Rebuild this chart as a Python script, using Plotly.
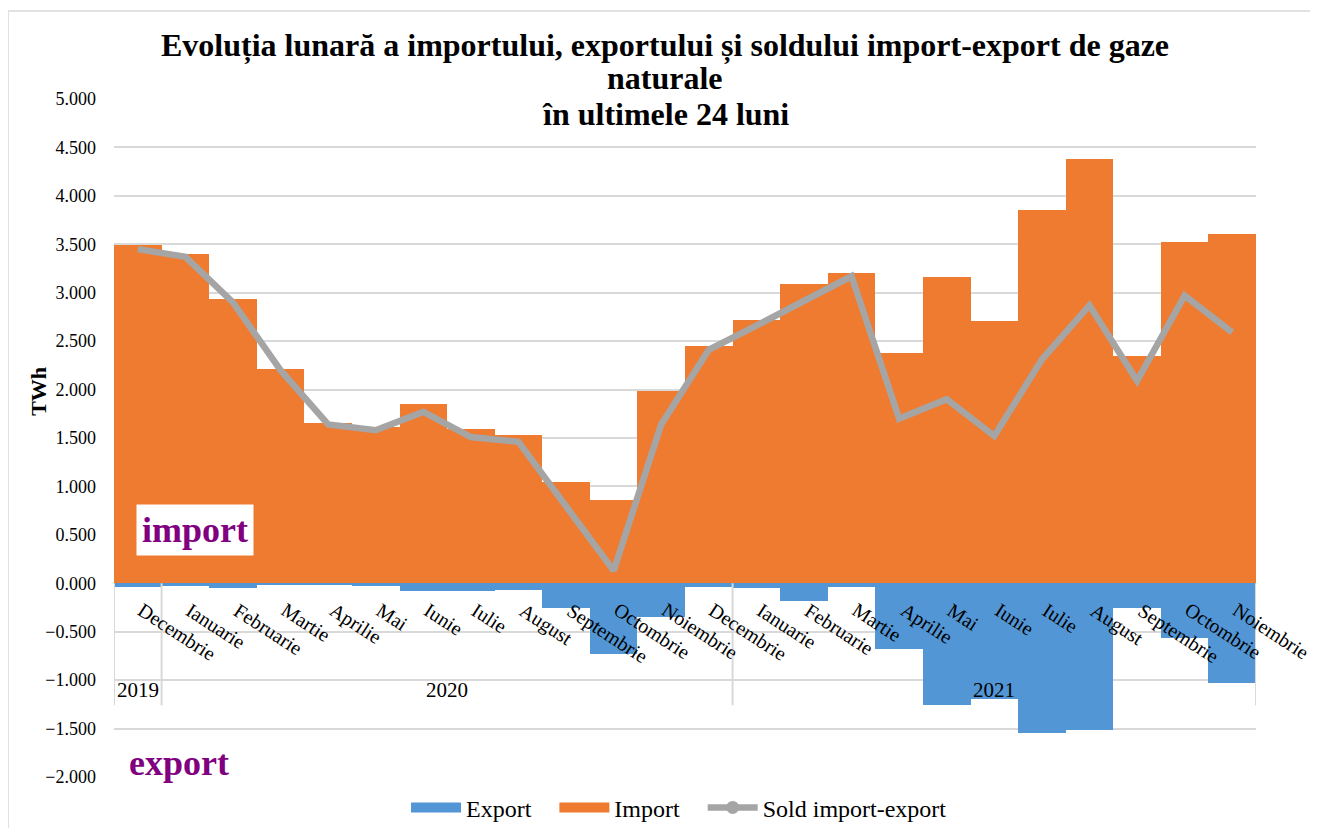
import plotly.graph_objects as go

# ---------------- data ----------------
months = ["Decembrie", "Ianuarie", "Februarie", "Martie", "Aprilie", "Mai", "Iunie",
          "Iulie", "August", "Septembrie", "Octombrie", "Noiembrie", "Decembrie",
          "Ianuarie", "Februarie", "Martie", "Aprilie", "Mai", "Iunie", "Iulie",
          "August", "Septembrie", "Octombrie", "Noiembrie"]
years = ["2019", "2020", "2021"]
year_month_counts = [1, 12, 11]

import_vals = [3.49, 3.40, 2.93, 2.21, 1.65, 1.61, 1.85, 1.59, 1.53, 1.05, 0.86, 1.99,
               2.45, 2.72, 3.09, 3.20, 2.38, 3.16, 2.71, 3.85, 4.38, 2.35, 3.52, 3.61]
export_vals = [-0.04, -0.03, -0.05, -0.02, -0.01, -0.03, -0.08, -0.08, -0.07, -0.26, -0.73, -0.35,
               -0.04, -0.05, -0.18, -0.04, -0.68, -1.26, -1.19, -1.55, -1.51, -0.26, -0.56, -1.03]
sold_vals = [3.45, 3.37, 2.90, 2.20, 1.64, 1.58, 1.77, 1.51, 1.46, 0.79, 0.13, 1.64,
             2.41, 2.66, 2.91, 3.17, 1.70, 1.90, 1.52, 2.31, 2.87, 2.09, 2.97, 2.59]

y_ticks = [-2.0, -1.5, -1.0, -0.5, 0.0, 0.5, 1.0, 1.5, 2.0, 2.5, 3.0, 3.5, 4.0, 4.5, 5.0]

title_lines = ["Evoluția lunară a importului, exportului și soldului import-export de gaze",
               "naturale", "în ultimele 24 luni"]

# ---------------- figure ----------------
x_idx = list(range(len(months)))
SERIF = "Liberation Serif"
BLUE = "#5296D5"
ORANGE = "#EF7B30"
GREY = "#A5A5A5"
PAD = "&nbsp;" * 3

fig = go.Figure()
fig.add_trace(go.Bar(x=x_idx, y=export_vals, name="Export", width=1, showlegend=False,
                     marker=dict(color=BLUE, line=dict(width=0))))
fig.add_trace(go.Bar(x=x_idx, y=import_vals, name="Import", width=1, showlegend=False,
                     marker=dict(color=ORANGE, line=dict(width=0))))
fig.add_trace(go.Scatter(x=x_idx, y=sold_vals, mode="lines", showlegend=False,
                         name="Sold import-export", line=dict(color=GREY, width=6.5)))
# legend entries (wide swatches like the original)
fig.add_trace(go.Scatter(x=[None], y=[None], mode="lines", name="Export" + PAD,
                         line=dict(color=BLUE, width=12)))
fig.add_trace(go.Scatter(x=[None], y=[None], mode="lines", name="Import" + PAD,
                         line=dict(color=ORANGE, width=12)))
fig.add_trace(go.Scatter(x=[None], y=[None], mode="lines+markers", name="Sold import-export",
                         line=dict(color=GREY, width=6.5),
                         marker=dict(color=GREY, size=13)))

annotations = []
# title, one annotation per line (tighter line spacing than layout.title)
for txt, yy in zip(title_lines, [1.0796, 1.031, 0.978]):
    annotations.append(dict(x=0.4825, y=yy, xref="paper", yref="paper", text="<b>" + txt + "</b>",
                            showarrow=False, xanchor="center", yanchor="middle",
                            font=dict(family=SERIF, size=32, color="#000000")))
# month labels (rotated)
for i, m in enumerate(months):
    annotations.append(dict(x=i, y=-0.13, xref="x", yref="y", text=m, showarrow=False,
                            textangle=33, xanchor="left", yanchor="top", xshift=-6,
                            font=dict(family=SERIF, size=20, color="#000000")))
# year labels
start = 0
for yr, cnt in zip(years, year_month_counts):
    annotations.append(dict(x=start + (cnt - 1) / 2, y=-1.10, xref="x", yref="y", text=yr,
                            showarrow=False, xanchor="center", yanchor="middle",
                            font=dict(family=SERIF, size=21, color="#000000")))
    start += cnt

annotations.append(dict(x=-0.066, y=0.569, xref="paper", yref="paper", text="<b>TWh</b>",
                        textangle=-90, showarrow=False, xanchor="center", yanchor="middle",
                        font=dict(family=SERIF, size=22, color="#000000")))
annotations.append(dict(x=0.0709, y=0.364, xref="paper", yref="paper", text="<b>import</b>",
                        showarrow=False, bgcolor="#FFFFFF", borderpad=5,
                        xanchor="center", yanchor="middle",
                        font=dict(family=SERIF, size=36, color="#800080")))
annotations.append(dict(x=0.057, y=-1.86, xref="paper", yref="y", text="<b>export</b>",
                        showarrow=False, xanchor="center", yanchor="middle",
                        font=dict(family=SERIF, size=36, color="#800080")))

shapes = []
# separators of the category axis
bounds = [-0.5]
acc = -0.5
for cnt in year_month_counts:
    acc += cnt
    bounds.append(acc)
for b in bounds:
    shapes.append(dict(type="line", xref="x", yref="y", x0=b, x1=b, y0=0, y1=-1.26,
                       line=dict(color="#D9D9D9", width=2), layer="above"))
# outer chart border
shapes.append(dict(type="rect", xref="paper", yref="paper", x0=-0.0928, x1=1.0535,
                   y0=-0.2, y1=1.1298, line=dict(color="#D9D9D9", width=1.5)))

# page body has an 8px default margin, so figure coords = screen coords - 8
fig.update_layout(
    width=1318, height=828,
    margin=dict(l=106, r=70, t=91, b=59, autoexpand=False),
    paper_bgcolor="#FFFFFF", plot_bgcolor="#FFFFFF",
    barmode="relative", bargap=0,
    xaxis=dict(range=[-0.5, len(months) - 0.5], showticklabels=False, showgrid=False,
               zeroline=False, showline=False, ticks="", automargin=False),
    yaxis=dict(range=[-2, 5], tickvals=y_ticks, tickformat=".3f", showgrid=True,
               gridcolor="#D9D9D9", gridwidth=1.5, zeroline=True, zerolinecolor="#D9D9D9",
               zerolinewidth=2, showline=False, ticks="", ticklabelstandoff=17,
               automargin=False,
               tickfont=dict(family=SERIF, size=18, color="#000000")),
    legend=dict(orientation="h", x=0.302, xanchor="left", xref="container",
                y=0.034, yanchor="middle", yref="container", itemwidth=50,
                font=dict(family=SERIF, size=24, color="#000000"), traceorder="normal",
                bgcolor="rgba(0,0,0,0)"),
    annotations=annotations,
    shapes=shapes,
)

fig.write_html("out.html")
